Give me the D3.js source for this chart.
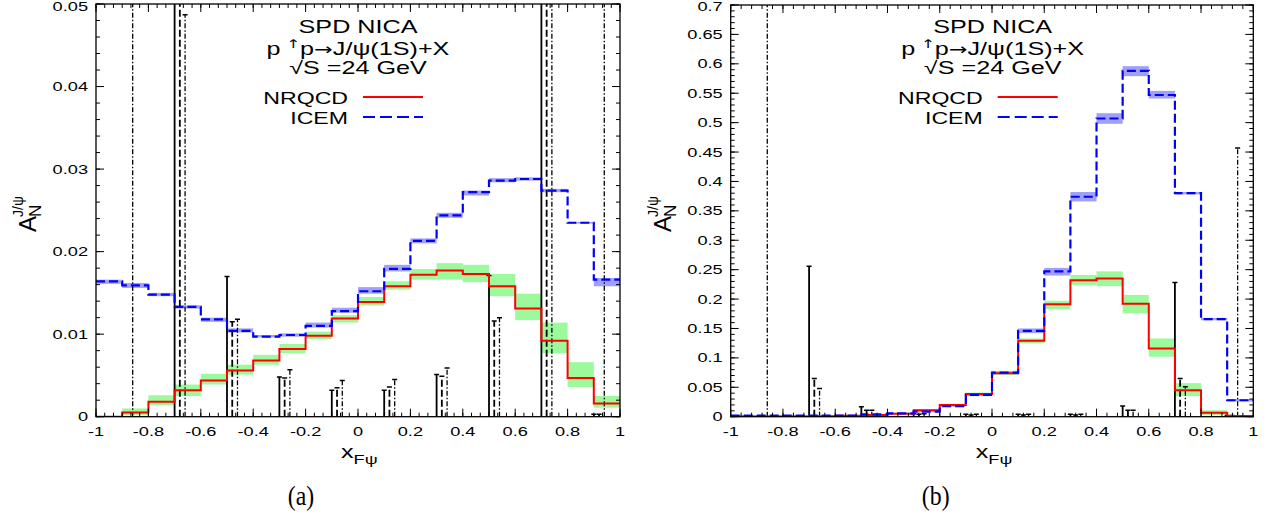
<!DOCTYPE html>
<html><head><meta charset="utf-8">
<script src="https://cdn.jsdelivr.net/npm/d3@7"></script>
<style>body{margin:0;background:#fff;} svg{display:block;} text{font-family:"Liberation Sans",Arial,sans-serif;fill:#000;}</style>
</head><body><svg id="c" width="1273" height="520"></svg>
<script>
// ---------- data ----------
const binStart = [-1,-0.9,-0.8,-0.7,-0.6,-0.5,-0.4,-0.3,-0.2,-0.1,0,0.1,0.2,0.3,0.4,0.5,0.6,0.7,0.8,0.9];
const xTickLabels = ["-1","-0.8","-0.6","-0.4","-0.2","0","0.2","0.4","0.6","0.8","1"];
const xTickValues = [-1,-0.8,-0.6,-0.4,-0.2,0,0.2,0.4,0.6,0.8,1];
const yTicksA = [0,0.01,0.02,0.03,0.04,0.05];
const yTickLabelsA = ["0","0.01","0.02","0.03","0.04","0.05"];
const yTicksB = [0,0.05,0.1,0.15,0.2,0.25,0.3,0.35,0.4,0.45,0.5,0.55,0.6,0.65,0.7];
const yTickLabelsB = ["0","0.05","0.1","0.15","0.2","0.25","0.3","0.35","0.4","0.45","0.5","0.55","0.6","0.65","0.7"];

// panel (a)
const nrqcdA   = [0,0.0005,0.0018,0.0032,0.0044,0.0056,0.0068,0.0082,0.0098,0.0119,0.0139,0.0158,0.0172,0.0177,0.0173,0.0158,0.0131,0.0092,0.0047,0.0016];
const nrqcdALo = [0,0.0002,0.0014,0.0025,0.0039,0.0051,0.0063,0.0077,0.0094,0.0114,0.0135,0.0154,0.0166,0.0166,0.0163,0.0146,0.0117,0.0077,0.0036,0.0011];
const nrqcdAHi = [0,0.0010,0.0026,0.0039,0.0052,0.0063,0.0075,0.0088,0.0103,0.0123,0.0145,0.0164,0.0179,0.0186,0.0184,0.0173,0.0149,0.0114,0.0066,0.0025];
const icemA    = [0.0164,0.0159,0.0148,0.0133,0.0118,0.0104,0.0097,0.0099,0.0110,0.0128,0.0152,0.0179,0.0213,0.0244,0.0272,0.0286,0.0288,0.0274,0.0235,0.0166];
const icemALo  = [0.0161,0.0156,0.0146,0.0131,0.0115,0.0102,0.0096,0.0097,0.0108,0.0126,0.0149,0.0176,0.0210,0.0241,0.0268,0.0284,0.0286,0.0272,0.0234,0.0158];
const icemAHi  = [0.0166,0.0162,0.0150,0.0135,0.0120,0.0107,0.0099,0.0101,0.0114,0.0132,0.0157,0.0184,0.0216,0.0247,0.0274,0.0289,0.0290,0.0276,0.0236,0.0168];

// panel (b)
const nrqcdB   = [0.0005,0.0005,0.0005,0.0008,0.0015,0.003,0.005,0.011,0.020,0.0385,0.0737,0.129,0.191,0.232,0.235,0.192,0.116,0.045,0.0068,0.001];
const nrqcdBLo = [0,0,0,0.0005,0.001,0.002,0.004,0.009,0.018,0.035,0.071,0.125,0.183,0.224,0.222,0.176,0.102,0.035,0.003,0];
const nrqcdBHi = [0.001,0.001,0.001,0.0012,0.002,0.004,0.006,0.013,0.022,0.041,0.078,0.133,0.197,0.241,0.247,0.207,0.133,0.057,0.011,0.002];
const icemB    = [0.0017,0.0017,0.0017,0.0017,0.0017,0.004,0.0057,0.0085,0.018,0.037,0.075,0.146,0.247,0.374,0.507,0.588,0.547,0.380,0.166,0.028];
const icemBLo  = [0.0012,0.0012,0.0012,0.0012,0.0012,0.0035,0.005,0.0075,0.017,0.035,0.073,0.142,0.240,0.366,0.498,0.579,0.541,0.378,0.164,0.026];
const icemBHi  = [0.0022,0.0022,0.0022,0.0022,0.0022,0.0045,0.0064,0.0095,0.019,0.039,0.077,0.150,0.253,0.382,0.516,0.596,0.554,0.382,0.168,0.030];

// projected uncertainties (three sets, x in xF)
const errSolidX  = [-0.9,-0.7,-0.5,-0.3,-0.1,0.1,0.3,0.5,0.7,0.9];
const errDashX   = [-0.88,-0.68,-0.48,-0.28,-0.08,0.12,0.32,0.52,0.72,0.92];
const errDotX    = [-0.86,-0.66,-0.46,-0.26,-0.06,0.14,0.34,0.54,0.74,0.94];
const errSolidA  = [null,0.08,0.0170,0.0048,0.0032,0.0032,0.0051,0.0171,0.08,0.0003];
const errDashA   = [null,0.08,0.0115,0.0047,0.0035,0.0036,0.0049,0.0116,0.08,0.0003];
const errDotA    = [0.08,0.0487,0.0118,0.0057,0.0044,0.0045,0.0059,0.0120,0.08,0.08];
const errSolidB  = [null,0.256,0.017,0.005,0.004,0.004,0.004,0.018,0.228,0.002];
const errDashB   = [null,0.065,0.011,0.004,0.003,0.003,0.003,0.011,0.065,0.002];
const errDotB    = [0.9,0.048,0.011,0.005,0.004,0.004,0.004,0.011,0.051,0.457];

// ---------- drawing ----------
const SX = 1.4;
const svg = d3.select("#c");
function stext(g, x, y, txt, size, anchor){
  return g.append("text").attr("transform",`translate(${x},${y}) scale(${SX},1)`)
    .attr("font-size",size).attr("text-anchor",anchor||"start").text(txt);
}

function panel(cfg){
  const {id,left,right,top,bottom,ymax,yTicks,yLabels,yMinor,xMinorStep,
         red,redLo,redHi,blue,blueLo,blueHi,eS,eD,eT,capLetter} = cfg;
  const x = d3.scaleLinear().domain([-1,1]).range([left,right]);
  const y = d3.scaleLinear().domain([0,ymax]).range([bottom,top]);
  const g = svg.append("g");
  g.append("clipPath").attr("id","clip"+id).append("rect")
    .attr("x",left).attr("y",top).attr("width",right-left).attr("height",bottom-top);
  const pg = g.append("g").attr("clip-path",`url(#clip${id})`);

  // bands
  pg.selectAll(".gb").data(binStart).join("rect")
    .attr("x",d=>x(d)).attr("width",d=>x(d+0.1)-x(d))
    .attr("y",(d,i)=>y(redHi[i])).attr("height",(d,i)=>y(redLo[i])-y(redHi[i]))
    .attr("fill","#9cf99c");
  pg.selectAll(".bb").data(binStart).join("rect")
    .attr("x",d=>x(d)).attr("width",d=>x(d+0.1)-x(d))
    .attr("y",(d,i)=>y(blueHi[i])).attr("height",(d,i)=>y(blueLo[i])-y(blueHi[i]))
    .attr("fill","#a0a0f8");

  // error bars
  const bars = [[errSolidX,eS,null,1.8],[errDashX,eD,"7,3",1.8],[errDotX,eT,"5,2,1.5,2",1.3]];
  bars.forEach(([xs,vals,dash,w])=>{
    xs.forEach((xv,i)=>{
      const v = vals[i]; if(v==null) return;
      pg.append("line").attr("x1",x(xv)).attr("x2",x(xv)).attr("y1",y(0)).attr("y2",y(v))
        .attr("stroke","#000").attr("stroke-width",w).attr("stroke-dasharray",dash);
      if(v<ymax){
        pg.append("line").attr("x1",x(xv)-2.5).attr("x2",x(xv)+2.5).attr("y1",y(v)).attr("y2",y(v))
          .attr("stroke","#000").attr("stroke-width",1.5);
      }
    });
  });

  // step lines
  const step = d3.line().x(d=>x(d[0])).y(d=>y(d[1])).curve(d3.curveStepAfter);
  const pts = v => binStart.map((b,i)=>[b,v[i]]).concat([[1,v[v.length-1]]]);
  pg.append("path").attr("d",step(pts(red))).attr("fill","none").attr("stroke","#ff0000").attr("stroke-width",2);
  pg.append("path").attr("d",step(pts(blue))).attr("fill","none").attr("stroke","#0000ff").attr("stroke-width",2.2).attr("stroke-dasharray","9,4");

  // frame
  g.append("rect").attr("x",left).attr("y",top).attr("width",right-left).attr("height",bottom-top)
    .attr("fill","none").attr("stroke","#000").attr("stroke-width",1.3);

  // ticks
  const tk = g.append("g").attr("stroke","#000").attr("stroke-width",1);
  const xMinor = d3.range(-1,1.0001,xMinorStep);
  xMinor.forEach(v=>{
    tk.append("line").attr("x1",x(v)).attr("x2",x(v)).attr("y1",bottom).attr("y2",bottom-4);
    tk.append("line").attr("x1",x(v)).attr("x2",x(v)).attr("y1",top).attr("y2",top+4);
  });
  xTickValues.forEach(v=>{
    tk.append("line").attr("x1",x(v)).attr("x2",x(v)).attr("y1",bottom).attr("y2",bottom-8);
    tk.append("line").attr("x1",x(v)).attr("x2",x(v)).attr("y1",top).attr("y2",top+8);
  });
  d3.range(0,ymax+1e-9,yMinor).forEach(v=>{
    tk.append("line").attr("x1",left).attr("x2",left+4).attr("y1",y(v)).attr("y2",y(v));
    tk.append("line").attr("x1",right).attr("x2",right-4).attr("y1",y(v)).attr("y2",y(v));
  });
  yTicks.forEach(v=>{
    tk.append("line").attr("x1",left).attr("x2",left+8).attr("y1",y(v)).attr("y2",y(v));
    tk.append("line").attr("x1",right).attr("x2",right-8).attr("y1",y(v)).attr("y2",y(v));
  });

  // tick labels
  xTickValues.forEach((v,i)=>stext(g,x(v),436,xTickLabels[i],13,"middle"));
  yTicks.forEach((v,i)=>stext(g,left-8,Math.max(y(v)+4.6,10.5),yLabels[i],13,"end"));

  // titles
  const cx = left+262;
  stext(g,cx,33,"SPD NICA",18,"middle");
  const t2 = g.append("text").attr("transform",`translate(${cx},55) scale(${SX},1)`).attr("font-size",18).attr("text-anchor","middle");
  t2.append("tspan").text("p");
  t2.append("tspan").attr("dy",-7).attr("font-size",12).style("font-family","'DejaVu Sans',sans-serif").text(" ↑");
  t2.append("tspan").attr("dy",7).text("p");
  t2.append("tspan").style("font-family","'DejaVu Sans',sans-serif").attr("font-size",16).text("→");
  t2.append("tspan").text("J/ψ(1S)+X");
  stext(g,cx,74,"√S =24 GeV",18,"middle");

  // legend
  stext(g,left+252,104,"NRQCD",16.5,"end");
  stext(g,left+252,124,"ICEM",16.5,"end");
  g.append("line").attr("x1",left+267).attr("x2",left+327).attr("y1",97).attr("y2",97).attr("stroke","#ff0000").attr("stroke-width",2);
  g.append("line").attr("x1",left+267).attr("x2",left+327).attr("y1",117).attr("y2",117).attr("stroke","#0000ff").attr("stroke-width",2).attr("stroke-dasharray","12,5");

  // axis labels
  const yl = g.append("g").attr("transform",`translate(${left-60},232) rotate(-90)`);
  yl.append("text").attr("x",0).attr("y",0).attr("font-size",24).text("A");
  yl.append("text").attr("x",15).attr("y",5).attr("font-size",17).text("N");
  yl.append("text").attr("x",15).attr("y",-13).attr("font-size",14).text("J/ψ");
  const xl = g.append("text").attr("transform",`translate(${left+245},458) scale(${SX},1)`).attr("font-size",18);
  xl.append("tspan").text("x");
  xl.append("tspan").attr("dy",6).attr("font-size",13).text("Fψ");

  g.append("text").attr("transform",`translate(${left+205},505) scale(0.85,1)`).attr("text-anchor","middle")
    .attr("font-size",28).style("font-family","'Liberation Serif','Times New Roman',serif").text(capLetter);
}

panel({id:"a",left:96,right:620,top:4,bottom:416.7,ymax:0.05,yTicks:yTicksA,yLabels:yTickLabelsA,yMinor:0.002,xMinorStep:0.2/6,
  red:nrqcdA,redLo:nrqcdALo,redHi:nrqcdAHi,blue:icemA,blueLo:icemALo,blueHi:icemAHi,
  eS:errSolidA,eD:errDashA,eT:errDotA,capLetter:"(a)"});
panel({id:"b",left:730.7,right:1253.3,top:5,bottom:416.7,ymax:0.7,yTicks:yTicksB,yLabels:yTickLabelsB,yMinor:0.01,xMinorStep:0.04,
  red:nrqcdB,redLo:nrqcdBLo,redHi:nrqcdBHi,blue:icemB,blueLo:icemBLo,blueHi:icemBHi,
  eS:errSolidB,eD:errDashB,eT:errDotB,capLetter:"(b)"});
</script></body></html>
